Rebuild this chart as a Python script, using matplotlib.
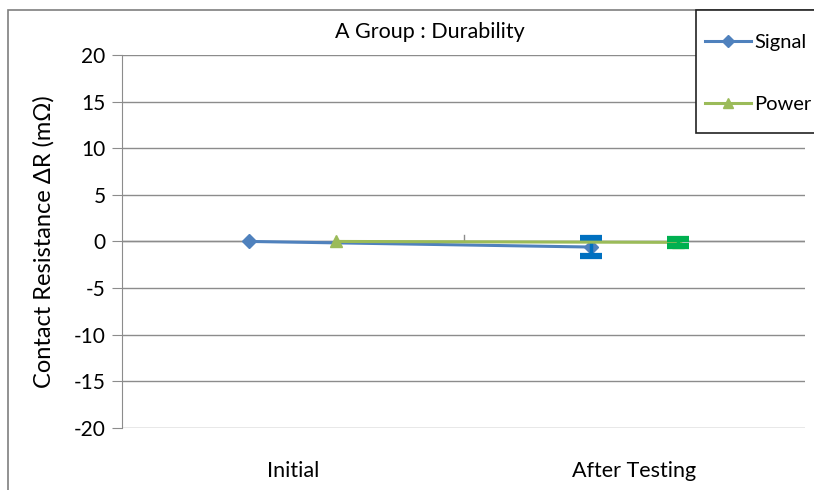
import matplotlib.pyplot as plt
from matplotlib.patches import Rectangle
from matplotlib.lines import Line2D

plt.rcParams['font.family'] = ['Lato', 'DejaVu Sans']
plt.rcParams['axes.unicode_minus'] = False

categories = ["Initial", "After Testing"]
signal = [0.0, -0.6]
signal_err = [0.0, 1.0]
power = [0.0, -0.1]
power_err = [0.0, 0.35]

offset = 0.127
xs = [i - offset for i in range(len(categories))]
xp = [i + offset for i in range(len(categories))]

fig = plt.figure(figsize=(8.14, 4.9), dpi=100)
ax = fig.add_axes([0.150, 0.1265, 0.839, 0.7615])

# outer frame of the chart
fig.patches.append(Rectangle((8 / 814, -0.1), 1.2, 1 - 10 / 490 + 0.1,
                             transform=fig.transFigure, fill=False,
                             edgecolor='#7f7f7f', linewidth=1.2))

ax.set_ylim(-20, 20)
ax.set_xlim(-0.5, 1.5)
ax.set_yticks(range(-20, 21, 5))
ax.yaxis.grid(True, color='#8c8c8c', linewidth=1)
ax.set_axisbelow(True)
for s in ['top', 'right', 'bottom']:
    ax.spines[s].set_visible(False)
ax.spines['left'].set_color('#8c8c8c')
ax.tick_params(axis='y', length=7, color='#8c8c8c', labelsize=15, pad=5)
ax.set_xticks(range(len(categories)))
ax.set_xticklabels(categories)
ax.tick_params(axis='x', length=0, labelsize=15.5, pad=24)

# category axis at zero with center tick
ax.axhline(0, color='#8c8c8c', linewidth=1, zorder=1)
ax.plot([0.5, 0.5], [0, 0.7], color='#8c8c8c', linewidth=1, zorder=1)

ax.plot(xs, signal, color='#4F81BD', marker='D', markersize=7,
        linewidth=2.2, zorder=3)
ax.plot(xp, power, color='#9BBB59', marker='^', markersize=8,
        linewidth=2.2, zorder=4)

# error bars only where there is a spread
for x, y, e in zip(xs, signal, signal_err):
    if e > 0:
        ax.errorbar([x], [y], yerr=[e], fmt='none', ecolor='#0070C0',
                    elinewidth=2.5, capsize=8, capthick=4.5, zorder=3)
for x, y, e in zip(xp, power, power_err):
    if e > 0:
        ax.errorbar([x], [y], yerr=[e], fmt='none', ecolor='#00B050',
                    elinewidth=2.5, capsize=8, capthick=4.5, zorder=4)

ax.set_ylabel("Contact Resistance ΔR (mΩ)", fontsize=17, labelpad=14)
fig.text(0.528, 1 - 32 / 490, "A Group : Durability", ha='center',
         va='center', fontsize=15.5)

# legend box drawn separately (wide vertical padding, tight horizontal)
fig.patches.append(Rectangle((696 / 814, 1 - 133 / 490), 0.3, 123 / 490,
                             transform=fig.transFigure, facecolor='white',
                             edgecolor='#222222', linewidth=1.2, zorder=5))
handles = [Line2D([], [], color='#4F81BD', marker='D', markersize=6, linewidth=2.2),
           Line2D([], [], color='#9BBB59', marker='^', markersize=7, linewidth=2.2)]
leg = fig.legend(handles, ["Signal", "Power"], loc='upper left',
                 bbox_to_anchor=(697 / 814, 1 - 26 / 490), fontsize=14.5,
                 frameon=False, labelspacing=2.2,
                 handlelength=2.3, handletextpad=0.15, borderpad=0.4,
                 borderaxespad=0)
leg.set_zorder(6)

fig.savefig("out.png", dpi=100)
